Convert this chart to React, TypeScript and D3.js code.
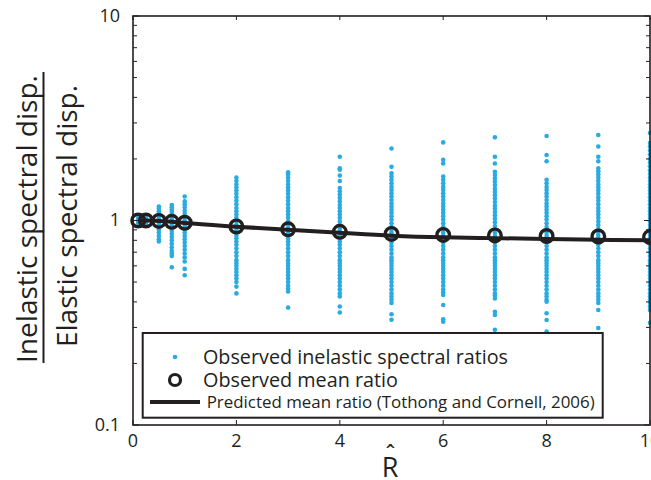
import React from "react";
import * as d3 from "d3";

const rValues = [0.1, 0.25, 0.5, 0.75, 1, 2, 3, 4, 5, 6, 7, 8, 9, 10];

const observedRatios: number[][] = [
  [1.03, 1.01, 1.0, 0.99, 0.97],
  [1.06, 1.04, 1.02, 1.0, 0.98, 0.96, 0.94],
  [1.17, 1.14, 1.11, 1.08, 1.05, 1.02, 0.99, 0.96, 0.93, 0.9, 0.87, 0.84, 0.81, 0.79],
  [1.19, 1.16, 1.13, 1.1, 1.07, 1.04, 1.01, 0.98, 0.95, 0.92, 0.89, 0.86, 0.83, 0.8, 0.77, 0.74, 0.71, 0.69, 0.67, 0.59],
  [1.31, 1.24, 1.2, 1.16, 1.12, 1.08, 1.04, 1.0, 0.96, 0.93, 0.9, 0.87, 0.84, 0.81, 0.78, 0.75, 0.72, 0.69, 0.66, 0.63, 0.58, 0.54],
  [1.62, 1.56, 1.5, 1.45, 1.4, 1.35, 1.3, 1.25, 1.2, 1.15, 1.11, 1.07, 1.03, 0.99, 0.95, 0.91, 0.88, 0.85, 0.82, 0.79, 0.76, 0.73, 0.7, 0.67, 0.64, 0.62, 0.6, 0.58, 0.56, 0.54, 0.52, 0.5, 0.475, 0.44],
  [1.72, 1.68, 1.62, 1.56, 1.5, 1.45, 1.4, 1.35, 1.3, 1.25, 1.2, 1.15, 1.11, 1.07, 1.03, 0.99, 0.95, 0.91, 0.88, 0.85, 0.82, 0.79, 0.76, 0.73, 0.7, 0.67, 0.64, 0.62, 0.6, 0.58, 0.56, 0.54, 0.52, 0.5, 0.48, 0.465, 0.45, 0.375],
  [2.05, 1.8, 1.77, 1.66, 1.56, 1.44, 1.39, 1.34, 1.29, 1.24, 1.19, 1.15, 1.11, 1.07, 1.03, 0.99, 0.95, 0.91, 0.88, 0.85, 0.82, 0.79, 0.76, 0.73, 0.7, 0.67, 0.64, 0.62, 0.6, 0.58, 0.56, 0.54, 0.52, 0.5, 0.48, 0.46, 0.44, 0.425, 0.38, 0.355],
  [2.25, 1.83, 1.7, 1.64, 1.58, 1.52, 1.46, 1.41, 1.36, 1.31, 1.26, 1.21, 1.17, 1.13, 1.09, 1.05, 1.01, 0.97, 0.93, 0.9, 0.87, 0.84, 0.81, 0.78, 0.75, 0.72, 0.69, 0.66, 0.64, 0.62, 0.6, 0.58, 0.56, 0.54, 0.52, 0.5, 0.48, 0.46, 0.44, 0.425, 0.41, 0.395, 0.348, 0.327],
  [2.41, 1.98, 1.9, 1.64, 1.58, 1.52, 1.46, 1.41, 1.36, 1.31, 1.26, 1.21, 1.17, 1.13, 1.09, 1.05, 1.01, 0.97, 0.93, 0.9, 0.87, 0.84, 0.81, 0.78, 0.75, 0.72, 0.69, 0.66, 0.64, 0.62, 0.6, 0.58, 0.56, 0.54, 0.52, 0.5, 0.48, 0.46, 0.445, 0.432, 0.386, 0.329, 0.32],
  [2.55, 2.05, 1.9, 1.73, 1.67, 1.61, 1.55, 1.49, 1.43, 1.38, 1.33, 1.28, 1.23, 1.18, 1.14, 1.1, 1.06, 1.02, 0.98, 0.94, 0.9, 0.87, 0.84, 0.81, 0.78, 0.75, 0.72, 0.69, 0.66, 0.64, 0.62, 0.6, 0.58, 0.56, 0.54, 0.52, 0.5, 0.48, 0.46, 0.44, 0.43, 0.416, 0.358, 0.345, 0.292],
  [2.59, 2.09, 1.95, 1.58, 1.52, 1.46, 1.41, 1.36, 1.31, 1.26, 1.21, 1.17, 1.13, 1.09, 1.05, 1.01, 0.97, 0.93, 0.9, 0.87, 0.84, 0.81, 0.78, 0.75, 0.72, 0.69, 0.66, 0.64, 0.62, 0.6, 0.58, 0.56, 0.54, 0.52, 0.5, 0.48, 0.46, 0.44, 0.425, 0.41, 0.401, 0.352, 0.326, 0.286],
  [2.62, 2.3, 2.05, 1.95, 1.8, 1.74, 1.68, 1.62, 1.56, 1.5, 1.45, 1.4, 1.35, 1.3, 1.25, 1.2, 1.15, 1.11, 1.07, 1.03, 0.99, 0.95, 0.91, 0.88, 0.85, 0.82, 0.79, 0.76, 0.73, 0.7, 0.67, 0.64, 0.62, 0.6, 0.58, 0.56, 0.54, 0.52, 0.5, 0.48, 0.46, 0.44, 0.425, 0.41, 0.395, 0.365, 0.298],
  [2.68, 2.39, 2.3, 2.2, 2.1, 2.0, 1.92, 1.84, 1.76, 1.69, 1.62, 1.56, 1.5, 1.45, 1.4, 1.35, 1.3, 1.25, 1.2, 1.15, 1.11, 1.07, 1.03, 0.99, 0.95, 0.91, 0.88, 0.85, 0.82, 0.79, 0.76, 0.73, 0.7, 0.67, 0.64, 0.62, 0.6, 0.58, 0.56, 0.54, 0.52, 0.5, 0.48, 0.46, 0.44, 0.425, 0.41, 0.395, 0.38, 0.365, 0.316],
];

const meanRatios = [1.0, 1.0, 0.995, 0.985, 0.975, 0.935, 0.905, 0.88, 0.86, 0.85, 0.845, 0.84, 0.835, 0.83];
const predictedRatios = [1.0, 1.0, 0.995, 0.985, 0.972, 0.933, 0.9, 0.87, 0.843, 0.827, 0.82, 0.812, 0.805, 0.8];

const xTicks = [0, 2, 4, 6, 8, 10];
const yTicks = [0.1, 1, 10];
const yTickLabels = ["0.1", "1", "10"];

const legendLabels = [
  "Observed inelastic spectral ratios",
  "Observed mean ratio",
  "Predicted mean ratio (Tothong and Cornell, 2006)",
];
const yLabelTop = "Inelastic spectral disp.";
const yLabelBottom = "Elastic spectral disp.";
const xLabel = "R";

const W = 651;
const H = 480;
const left = 133;
const right = 650;
const top = 16;
const bottom = 425;
const ink = "#231f20";
const blue = "#29abe2";
const font = "'Open Sans', 'DejaVu Sans', sans-serif";

export default function App() {
  const x = d3.scaleLinear().domain([0, 10]).range([left, right]);
  const y = d3.scaleLog().domain([0.1, 10]).range([bottom, top]);

  const minorY: number[] = [];
  [0.1, 1].forEach((d) => {
    for (let k = 2; k <= 9; k++) minorY.push(d * k);
  });

  const line = d3
    .line<number>()
    .x((_, i) => x(rValues[i]))
    .y((v) => y(v))
    .curve(d3.curveMonotoneX);

  return (
    <svg
      width={W}
      height={H}
      style={{ position: "absolute", left: 0, top: 0, background: "#fff" }}
      fontFamily={font}
    >
      {/* scatter */}
      {observedRatios.map((col, i) =>
        col.map((v, j) => (
          <circle key={`d${i}-${j}`} cx={x(rValues[i])} cy={y(v)} r={2.3} fill={blue} />
        ))
      )}
      {/* predicted line */}
      <path d={line(predictedRatios) || ""} fill="none" stroke={ink} strokeWidth={4} />
      {/* mean markers */}
      {meanRatios.map((v, i) => (
        <circle key={`m${i}`} cx={x(rValues[i])} cy={y(v)} r={6.3} fill="none" stroke={ink} strokeWidth={3.4} />
      ))}

      {/* frame */}
      <rect x={left} y={top} width={right - left} height={bottom - top} fill="none" stroke={ink} strokeWidth={1.6} />
      {/* minor y ticks */}
      {minorY.map((v) => (
        <g key={`my${v}`}>
          <line x1={left} x2={left + 4} y1={y(v)} y2={y(v)} stroke={ink} strokeWidth={1} />
          <line x1={right} x2={right - 4} y1={y(v)} y2={y(v)} stroke={ink} strokeWidth={1} />
        </g>
      ))}
      {yTicks.map((v) => (
        <g key={`My${v}`}>
          <line x1={left} x2={left + 6} y1={y(v)} y2={y(v)} stroke={ink} strokeWidth={1} />
          <line x1={right} x2={right - 6} y1={y(v)} y2={y(v)} stroke={ink} strokeWidth={1} />
        </g>
      ))}
      {xTicks.map((v) => (
        <g key={`xt${v}`}>
          <line x1={x(v)} x2={x(v)} y1={bottom} y2={bottom - 5} stroke={ink} strokeWidth={1} />
          <line x1={x(v)} x2={x(v)} y1={top} y2={top + 4} stroke={ink} strokeWidth={1} />
        </g>
      ))}

      {/* tick labels */}
      {yTicks.map((v, i) => (
        <text key={`yl${v}`} x={120} y={y(v) + 1} textAnchor="end" dominantBaseline="middle" fontSize={18} fill={ink}>
          {yTickLabels[i]}
        </text>
      ))}
      {xTicks.map((v) => (
        <text key={`xl${v}`} x={x(v)} y={446.5} textAnchor="middle" fontSize={18} fill={ink}>
          {v}
        </text>
      ))}

      {/* x label with hat */}
      <text x={390} y={477} textAnchor="middle" fontSize={27} fill={ink}>
        {xLabel}
      </text>
      <text x={390.5} y={462} textAnchor="middle" fontSize={24} fill={ink}>
        ˆ
      </text>

      {/* y label fraction */}
      <g transform="translate(37,219) rotate(-90)">
        <text x={0} y={0} textAnchor="middle" fontSize={28} fill={ink} textLength={288} lengthAdjust="spacingAndGlyphs">
          {yLabelTop}
        </text>
      </g>
      <line x1={43.5} x2={43.5} y1={72} y2={363} stroke={ink} strokeWidth={2} />
      <g transform="translate(77,216) rotate(-90)">
        <text x={0} y={0} textAnchor="middle" fontSize={28} fill={ink} textLength={262} lengthAdjust="spacingAndGlyphs">
          {yLabelBottom}
        </text>
      </g>

      {/* legend */}
      <rect x={142.7} y={333} width={460} height={84.7} fill="#fff" stroke={ink} strokeWidth={2} />
      <circle cx={175} cy={357} r={2.3} fill={blue} />
      <circle cx={175} cy={380} r={5.5} fill="none" stroke={ink} strokeWidth={3.2} />
      <line x1={150} x2={200} y1={402} y2={402} stroke={ink} strokeWidth={4} />
      <text x={203} y={363.5} fontSize={20} fill={ink} textLength={305} lengthAdjust="spacingAndGlyphs">
        {legendLabels[0]}
      </text>
      <text x={203} y={387} fontSize={20} fill={ink} textLength={195} lengthAdjust="spacingAndGlyphs">
        {legendLabels[1]}
      </text>
      <text x={206.7} y={407.5} fontSize={16.5} fill={ink} textLength={388} lengthAdjust="spacingAndGlyphs">
        {legendLabels[2]}
      </text>
    </svg>
  );
}
